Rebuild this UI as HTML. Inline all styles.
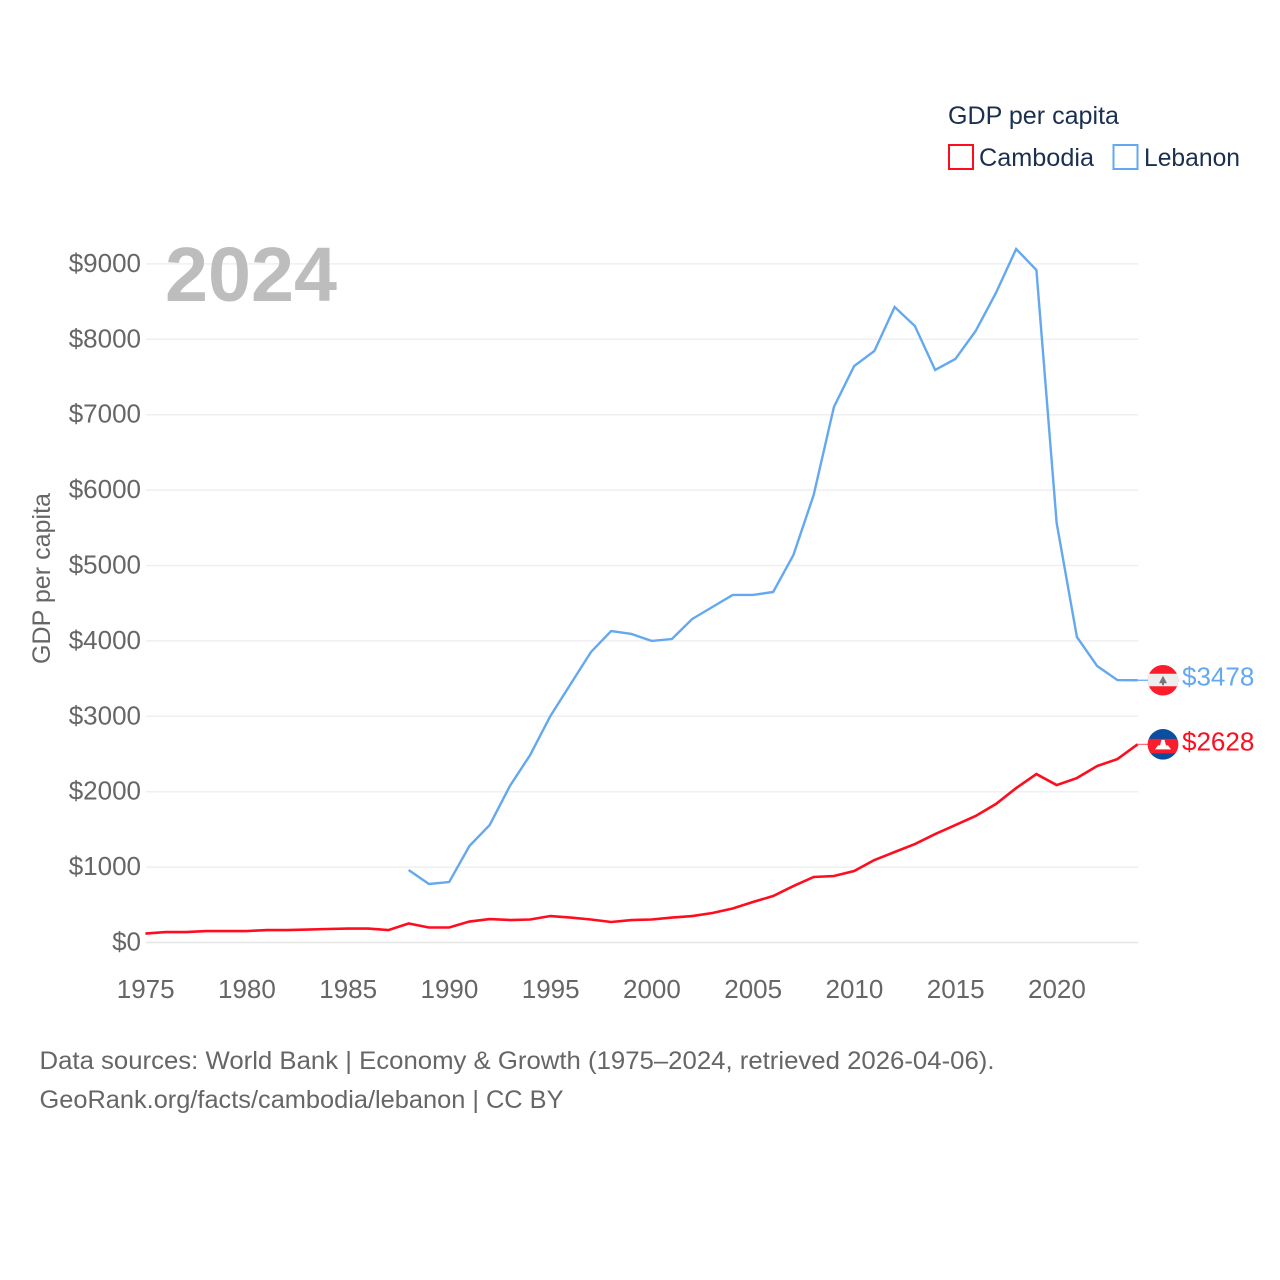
<!DOCTYPE html>
<html lang="en">
<head>
<meta charset="utf-8">
<title>GDP per capita: Cambodia and Lebanon</title>
<style>
html,body{margin:0;padding:0;background:#fff;}
svg{display:block;font-family:"Liberation Sans",sans-serif;}
</style>
</head>
<body>
<svg id="chart" xmlns="http://www.w3.org/2000/svg" width="1280" height="1280" viewBox="0 0 1280 1280">
  <rect x="0" y="0" width="1280" height="1280" fill="#ffffff"/>
  <defs>
    <clipPath id="clip-lb"><circle cx="0" cy="0" r="15.3"/></clipPath>
    <clipPath id="clip-kh"><circle cx="0" cy="0" r="15.3"/></clipPath>
  </defs>

  <g id="grid"></g>
  <g id="yticks"></g>
  <g id="xticks"></g>

  <text x="165" y="301" font-size="77" font-weight="700" fill="#bdbdbd" textLength="172" lengthAdjust="spacingAndGlyphs">2024</text>

  <text transform="translate(50,664) rotate(-90)" font-size="25" fill="#666666" textLength="171" lengthAdjust="spacingAndGlyphs">GDP per capita</text>

  <g>
    <text x="948" y="124" font-size="25" fill="#1b3050" textLength="171" lengthAdjust="spacingAndGlyphs">GDP per capita</text>
    <g>
      <rect x="949" y="145" width="24" height="24" fill="none" stroke="#ff0d1e" stroke-width="2"/>
      <text x="979" y="166" font-size="25" fill="#1b3050" textLength="115" lengthAdjust="spacingAndGlyphs">Cambodia</text>
    </g>
    <g>
      <rect x="1113.500" y="145" width="24" height="24" fill="none" stroke="#63a8f0" stroke-width="2"/>
      <text x="1144" y="166" font-size="25" fill="#1b3050" textLength="96" lengthAdjust="spacingAndGlyphs">Lebanon</text>
    </g>
  </g>

  <g id="series"></g>

  <g id="flag-lb">
    <g clip-path="url(#clip-lb)">
      <rect x="-16" y="-16" width="32" height="32" fill="#fb1d2c"/>
      <rect x="-16" y="-6.500" width="32" height="12.500" fill="#eeeeee"/>
      <polygon points="0,-4.500 4,3 1,3 1,5 -1,5 -1,3 -4,3" fill="#777777"/>
    </g>
  </g>
  <g id="flag-kh">
    <g clip-path="url(#clip-kh)">
      <rect x="-16" y="-16" width="32" height="32" fill="#0a4ea2"/>
      <rect x="-16" y="-5.500" width="32" height="14.500" fill="#fb1d2c"/>
      <polygon points="-8,5 -5,1 -3,1 -1.500,-4.500 1.500,-4.500 3,1 5,1 8,5" fill="#ffffff"/>
    </g>
  </g>

  <text id="val-lb" x="1182" font-size="26" fill="#63a8f0"></text>
  <text id="val-kh" x="1182" font-size="26" fill="#ff0d1e"></text>

  <g>
    <text x="39.500" y="1069" font-size="25" fill="#666666" textLength="955" lengthAdjust="spacingAndGlyphs">Data sources: World Bank | Economy &amp; Growth (1975–2024, retrieved 2026-04-06).</text>
    <text x="39.500" y="1108" font-size="25" fill="#666666" textLength="524" lengthAdjust="spacingAndGlyphs">GeoRank.org/facts/cambodia/lebanon | CC BY</text>
  </g>
</svg>
<script>
const years = [1975,1976,1977,1978,1979,1980,1981,1982,1983,1984,1985,1986,1987,1988,1989,1990,1991,1992,1993,1994,1995,1996,1997,1998,1999,2000,2001,2002,2003,2004,2005,2006,2007,2008,2009,2010,2011,2012,2013,2014,2015,2016,2017,2018,2019,2020,2021,2022,2023,2024];
const cambodia = [119,139,139,152,152,152,165,165,172,179,185,185,165,252,199,199,278,311,298,305,351,331,305,272,298,305,331,351,391,451,537,617,749,869,882,948,1094,1200,1306,1438,1558,1678,1837,2048,2234,2088,2181,2340,2433,2628];
const lebanon = [null,null,null,null,null,null,null,null,null,null,null,null,null,961,776,802,1280,1558,2076,2487,3004,3428,3852,4131,4092,4000,4025,4290,4450,4609,4609,4649,5139,5935,7102,7646,7845,8428,8176,7593,7739,8110,8614,9198,8919,5564,4052,3667,3480,3478];
const yTicks = [0,1000,2000,3000,4000,5000,6000,7000,8000,9000];
const xTicks = [1975,1980,1985,1990,1995,2000,2005,2010,2015,2020];

const NS = 'http://www.w3.org/2000/svg';
const xScale = function (year) { return 145.4 + (year - 1975) * 20.25; };
const yScale = function (value) { return 942.5 - value * 0.0754; };
const flagX = 1163;

function svgEl(tag, parent) {
  const el = document.createElementNS(NS, tag);
  parent.appendChild(el);
  return el;
}

const gridGroup = document.getElementById('grid');
const yTickGroup = document.getElementById('yticks');
yTicks.forEach(function (tick) {
  const line = svgEl('line', gridGroup);
  
  
  line.setAttribute('x1', xScale(1975) + 0.6);
  line.setAttribute('x2', xScale(2024) + 0.6);
  line.setAttribute('y1', yScale(tick));
  line.setAttribute('y2', yScale(tick));
  line.setAttribute('stroke', tick === 0 ? '#e6e6e6' : '#efefef');
  line.setAttribute('stroke-width', '1.5');
  const label = svgEl('text', yTickGroup);
  
  
  label.setAttribute('x', 141);
  label.setAttribute('y', yScale(tick) + 8);
  label.setAttribute('text-anchor', 'end');
  label.setAttribute('font-size', '26');
  label.setAttribute('fill', '#666666');
  label.textContent = '$' + tick;
});

const xTickGroup = document.getElementById('xticks');
xTicks.forEach(function (tick) {
  const label = svgEl('text', xTickGroup);
  
  
  label.setAttribute('x', xScale(tick) + 0.3);
  label.setAttribute('y', 998);
  label.setAttribute('text-anchor', 'middle');
  label.setAttribute('font-size', '26');
  label.setAttribute('fill', '#666666');
  label.textContent = tick;
});

function pathFor(values) {
  let d = '';
  values.forEach(function (value, i) {
    if (value === null) { return; }
    d += (d === '' ? 'M' : 'L') + xScale(years[i]).toFixed(2) + ',' + yScale(value).toFixed(2);
  });
  return d;
}

const seriesGroup = document.getElementById('series');

const lebanonLine = svgEl('path', seriesGroup);


lebanonLine.setAttribute('d', pathFor(lebanon));
lebanonLine.setAttribute('fill', 'none');
lebanonLine.setAttribute('stroke', '#63a8f0');
lebanonLine.setAttribute('stroke-width', '2.4');

const cambodiaLine = svgEl('path', seriesGroup);


cambodiaLine.setAttribute('d', pathFor(cambodia));
cambodiaLine.setAttribute('fill', 'none');
cambodiaLine.setAttribute('stroke', '#ff0d1e');
cambodiaLine.setAttribute('stroke-width', '2.6');

const lastLebanon = lebanon[lebanon.length - 1];
const lastCambodia = cambodia[cambodia.length - 1];

const lebanonConnector = svgEl('line', seriesGroup);


lebanonConnector.setAttribute('x1', xScale(2024));
lebanonConnector.setAttribute('x2', flagX);
lebanonConnector.setAttribute('y1', yScale(lastLebanon));
lebanonConnector.setAttribute('y2', yScale(lastLebanon));
lebanonConnector.setAttribute('stroke', '#63a8f0');
lebanonConnector.setAttribute('stroke-width', '1.2');

const cambodiaConnector = svgEl('line', seriesGroup);


cambodiaConnector.setAttribute('x1', xScale(2024));
cambodiaConnector.setAttribute('x2', flagX);
cambodiaConnector.setAttribute('y1', yScale(lastCambodia));
cambodiaConnector.setAttribute('y2', yScale(lastCambodia));
cambodiaConnector.setAttribute('stroke', '#ff6a74');
cambodiaConnector.setAttribute('stroke-width', '1.2');

document.getElementById('flag-lb').setAttribute('transform', 'translate(' + flagX + ',' + yScale(lastLebanon) + ')');
document.getElementById('flag-kh').setAttribute('transform', 'translate(' + flagX + ',' + yScale(lastCambodia) + ')');

const lebanonValue = document.getElementById('val-lb');
lebanonValue.setAttribute('y', yScale(lastLebanon) + 5);
lebanonValue.textContent = '$' + lastLebanon;

const cambodiaValue = document.getElementById('val-kh');
cambodiaValue.setAttribute('y', yScale(lastCambodia) + 6);
cambodiaValue.textContent = '$' + lastCambodia;
</script>
</body>
</html>
